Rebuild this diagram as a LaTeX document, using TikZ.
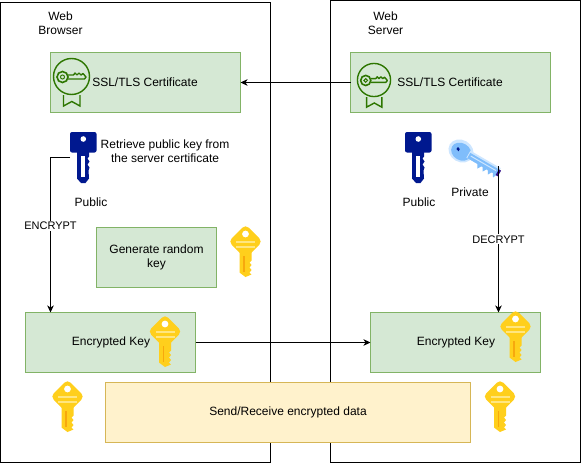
\documentclass[tikz,border=0pt]{standalone}
\usepackage{fontspec}
\setmainfont{Liberation Sans}
\usepackage{xcolor}
\usetikzlibrary{arrows.meta, positioning}
\definecolor{boxgreen}{HTML}{D5E8D4}
\definecolor{linegreen}{HTML}{82B366}
\definecolor{boxyellow}{HTML}{FFF2CC}
\definecolor{lineyellow}{HTML}{D6B656}
\definecolor{iconink}{HTML}{2D7600}
\definecolor{keynavy}{HTML}{00188F}
\definecolor{keygold}{HTML}{FFCF1C}
\definecolor{keypale}{HTML}{FFE680}
\definecolor{keyamber}{HTML}{F7A80D}
\definecolor{keysky}{HTML}{7FBDFB}
\definecolor{keyice}{HTML}{CDE6FF}
\tikzset{
  host/.style={
    rectangle, draw=black, line width=1pt, fill=white, outer sep=0pt,
    minimum height=460pt
  },
  greenbox/.style={
    rectangle, draw=linegreen, line width=1pt, fill=boxgreen, outer sep=0pt,
    minimum width=#1, minimum height=60pt,
    align=center, font=\fontsize{12}{14}\selectfont
  },
  yellowbox/.style={
    rectangle, draw=lineyellow, line width=1pt, fill=boxyellow, outer sep=0pt,
    minimum width=365pt, minimum height=60pt,
    align=center, font=\fontsize{12}{14}\selectfont
  },
  caption/.style={
    inner sep=0pt, align=center, font=\fontsize{12}{14}\selectfont
  },
  linelabel/.style={
    fill=white, inner sep=1pt, font=\fontsize{11}{13}\selectfont
  },
  keyslot/.style={
    rectangle, inner sep=0pt, outer sep=0pt,
    minimum width=26pt, minimum height=51pt
  },
  arrow/.style={
    -{Stealth[length=7pt,width=6.5pt,inset=2pt]}, line width=1pt, draw=black
  },
  pics/goldkey/.style={code={
    \fill[keygold, rounded corners=4.5pt]
      (8.5,-8.5) -- (0,-17) -- (-17,0) -- (0,17) -- (17,0) -- cycle;
    \fill[keygold] (-6,8) -- (6,8) -- (6,19) -- (4,21) -- (6,23.5)
      -- (4,26) -- (6,28.5) -- (4,31) -- (6,33) -- (0,35.5)
      -- (-6,31) -- cycle;
    \fill[keyamber] (-2.5,14) rectangle (-0.7,30);
    \fill[white] (0,-7.5) circle (3.4pt);
    \fill[keypale] (-9.5,-1) rectangle (9.5,1.6);
    \fill[keypale] (-9.5,4) rectangle (9.5,6.2);
  }},
  pics/navykey/.style={code={
    \fill[keynavy, rounded corners=2pt] (-13,-25.5) rectangle (13.5,-5);
    \fill[keynavy] (-6,-7) -- (6,-7) -- (6,-1) -- (4.5,1) -- (6.5,4) -- (4.5,7)
      -- (6.5,10) -- (5.5,13) -- (6,21) -- (2.5,25.5) -- (-2,25.5) -- (-6,21)
      -- cycle;
    \fill[white] (-2,-2) rectangle (2,19);
    \fill[white] (0.3,-18.5) circle (2.8pt);
  }},
  pics/skykey/.style={code={
    \begin{scope}[rotate=-30]
      \fill[keyice] (0,0) ellipse (13pt and 11pt);
      \fill[keysky] (0.5,0.5) ellipse (10.5pt and 8.5pt);
      \fill[keyice] (8,-5) rectangle (43,3);
      \fill[keysky] (9,-3) rectangle (43,3);
      \fill[keysky] (20,2) -- (23,7) -- (26,2) -- (29,7) -- (32,2)
        -- (35,7) -- (38,2) -- (41,7) -- (43,2) -- cycle;
      \fill[keyice] (11,-1) rectangle (40,0);
      \fill[keynavy] (-4.5,-2) -- (-2,-1) -- (-2,1.5) -- (-5,0.5) -- cycle;
      \fill[keynavy!60!violet] (42,-3) rectangle (44.5,3.5);
    \end{scope}
  }},
  pics/certicon/.style={code={
    \draw[iconink, line width=1.4pt] (0,0) circle (18pt);
    \draw[iconink, line width=1.6pt] (-9,0.5) circle (5.5pt);
    \draw[iconink, line width=1pt] (-9,0.5) circle (2pt);
    \draw[iconink, line width=1.4pt, line join=round] (-3.5,-1.5) -- (2,-1.5)
      -- (3.5,-3.5) -- (5.5,-1.5) -- (7.5,-3.5) -- (9.5,-1.5) -- (11.5,-3)
      -- (14.5,0.5) -- (13,2.5) -- (-3.5,2.5);
    \draw[iconink, line width=1.4pt, line join=miter] (-8,18.5) -- (-8,29.5)
      -- (0.3,25) -- (8.5,29.5) -- (8.5,18.5);
  }}
}
\begin{document}
\begin{tikzpicture}[x=1pt, y=-1pt]
  \useasboundingbox (0,0) rectangle (581,463);

  \node[host, minimum width=270pt] (browser) at (135.5,232.5) {};
  \node[host, minimum width=250pt, minimum height=462pt, right=60pt of browser.east, anchor=west, yshift=1pt] (server) {};

  \node[caption] (browsername) at (60.5,23) {Web\\Browser};
  \node[caption, right=325pt of browsername.center, anchor=center] (servername) {Web\\Server};

  \node[greenbox=190pt] (certbrowser) at (145.5,82.5) {};
  \node[greenbox=200pt, right=110pt of certbrowser] (certserver) {};
  \node[caption] (certbrowsertext) at (145,82.5) {SSL/TLS Certificate};
  \node[caption] (certservertext) at (450,82.5) {SSL/TLS Certificate};
  \pic at (71.5,76.5) {certicon};
  \pic[scale=.92] at (374,80) {certicon};

  \node[keyslot] (pubbrowser) at (83,157.5) {};
  \node[keyslot] (pubserver) at (418,157.5) {};
  \coordinate (privtip) at (498,166);
  \pic at (pubbrowser) {navykey};
  \pic at (pubserver) {navykey};
  \pic at (461,151) {skykey};
  \node[caption, right=4.5pt of pubbrowser, yshift=6.5pt] (retrieve) {Retrieve public key from\\the server certificate};
  \node[caption] (pubbrowsername) at (91,202.5) {Public};
  \node[caption] (pubservername) at (419,202.5) {Public};
  \node[caption] (privname) at (470,192.5) {Private};

  \node[greenbox=120pt] (genkey) at (156.5,257.5) {Generate random\\key};
  \pic at (245.5,241.5) {goldkey};

  \node[greenbox=170pt] (encbrowser) at (110.5,342.5) {};
  \node[greenbox=170pt, right=175pt of encbrowser] (encserver) {};
  \node[caption] (encbrowsertext) at (111,342.5) {Encrypted Key};
  \node[caption] (encservertext) at (456,342.5) {Encrypted Key};
  \pic at (165,331.5) {goldkey};
  \pic at (515.5,326.5) {goldkey};
  \coordinate (encryptin) at (50.5,312.5);
  \coordinate (decryptin) at (498.5,312.5);

  \node[yellowbox] (transfer) at (288,412.5) {Send/Receive encrypted data};
  \pic at (67.5,396.5) {goldkey};
  \pic at (500,396.5) {goldkey};

  \draw[arrow] (certserver) -- (certbrowser);
  \draw[arrow] (pubbrowser.west) -| node[linelabel, pos=.72]{ENCRYPT} (encryptin);
  \draw[arrow] (privtip -| decryptin) -- node[linelabel]{DECRYPT} (decryptin);
  \draw[arrow] (encbrowser) -- (encserver);
\end{tikzpicture}
\end{document}
